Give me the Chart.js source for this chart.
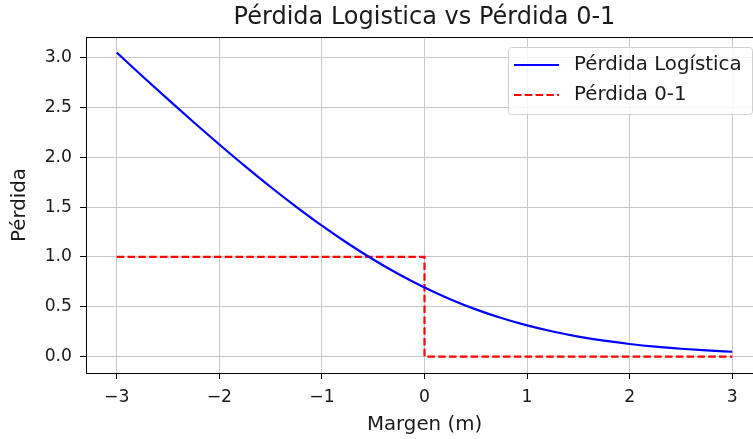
<!DOCTYPE html>
<html>
<head>
<meta charset="utf-8">
<script src="https://cdn.jsdelivr.net/npm/chart.js"></script>
<style>
  html, body { margin: 0; padding: 0; background: #fff; overflow: hidden; }
  #wrap { width: 775px; height: 439px; }
</style>
</head>
<body>
<div id="wrap"><canvas id="grafico" width="775" height="439"></canvas></div>
<script>
// margen (m) y pérdida logística
const margenes = [-3, -2.75, -2.5, -2.25, -2, -1.75, -1.5, -1.25, -1, -0.75, -0.5, -0.25, 0,
                  0.25, 0.5, 0.75, 1, 1.25, 1.5, 1.75, 2, 2.25, 2.5, 2.75, 3];
const perdidaLogistica = [3.049, 2.812, 2.579, 2.350, 2.127, 1.910, 1.701, 1.502, 1.313, 1.137, 0.974, 0.826, 0.693,
                          0.576, 0.474, 0.387, 0.313, 0.252, 0.201, 0.160, 0.127, 0.100, 0.079, 0.062, 0.049];
// pérdida 0-1 (escalón en m = 0)
const margenes01 = [-3, 0, 0, 3];
const perdida01 = [1, 1, 0, 0];

const ticksX = [-3, -2, -1, 0, 1, 2, 3];
const ticksY = [0, 0.5, 1, 1.5, 2, 2.5, 3];

const fuente = "'DejaVu Sans', sans-serif";

const textos = {
    id: 'textos',
    afterDraw(chart) {
        const ctx = chart.ctx;
        const a = chart.chartArea;
        ctx.save();
        // bordes superior y derecho
        ctx.strokeStyle = '#000';
        ctx.lineWidth = 1;
        ctx.beginPath();
        ctx.moveTo(a.left, a.top + 0.5);
        ctx.lineTo(a.right, a.top + 0.5);
        ctx.lineTo(a.right - 0.5, a.bottom);
        ctx.stroke();

        const cx = (a.left + a.right) / 2;
        ctx.fillStyle = '#1a1a1a';
        ctx.textAlign = 'center';
        ctx.textBaseline = 'middle';
        ctx.font = '24px ' + fuente;
        ctx.fillText('Pérdida Logistica vs Pérdida 0-1', cx, 18);

        ctx.font = '19.8px ' + fuente;
        ctx.fillText('Margen (m)', cx, 425);
        ctx.translate(20, (a.top + a.bottom) / 2);
        ctx.rotate(-Math.PI / 2);
        ctx.fillText('Pérdida', 0, 0);
        ctx.restore();

        // leyenda
        ctx.save();
        const lx = 508, ly = 47, lw = 244, lh = 67;
        ctx.fillStyle = 'rgba(255,255,255,0.8)';
        ctx.strokeStyle = '#d0d0d0';
        ctx.lineWidth = 1;
        ctx.beginPath();
        ctx.roundRect(lx + 0.5, ly + 0.5, lw, lh, 3);
        ctx.fill();
        ctx.stroke();
        const filas = [65, 95];
        chart.data.datasets.forEach((ds, i) => {
            ctx.strokeStyle = ds.borderColor;
            ctx.lineWidth = ds.borderWidth;
            ctx.setLineDash(ds.borderDash || []);
            ctx.beginPath();
            ctx.moveTo(514, filas[i]);
            ctx.lineTo(559, filas[i]);
            ctx.stroke();
            ctx.setLineDash([]);
            ctx.fillStyle = '#1a1a1a';
            ctx.font = '19.8px ' + fuente;
            ctx.textAlign = 'left';
            ctx.textBaseline = 'middle';
            ctx.fillText(ds.label, 574, filas[i]);
        });
        ctx.restore();
    }
};

const ctx = document.getElementById('grafico').getContext('2d');
new Chart(ctx, {
    type: 'line',
    data: {
        datasets: [{
            label: 'Pérdida Logística',
            data: margenes.map((m, i) => ({ x: m, y: perdidaLogistica[i] })),
            borderColor: '#0000ff',
            borderWidth: 2.2,
            pointRadius: 0,
            cubicInterpolationMode: 'monotone',
            fill: false
        }, {
            label: 'Pérdida 0-1',
            data: margenes01.map((m, i) => ({ x: m, y: perdida01[i] })),
            borderColor: '#ff0000',
            borderWidth: 2.2,
            borderDash: [7.5, 3.3],
            pointRadius: 0,
            tension: 0,
            fill: false
        }]
    },
    options: {
        responsive: false,
        animation: false,
        layout: { padding: { top: 37, right: 12, left: 0, bottom: 0 } },
        plugins: { legend: { display: false }, tooltip: { enabled: false }, title: { display: false } },
        scales: {
            x: {
                type: 'linear',
                min: -3.3,
                max: 3.3,
                afterBuildTicks: s => { s.ticks = ticksX.map(v => ({ value: v })); },
                afterFit: s => { s.height = 66; },
                grid: { color: '#c8c8c8', lineWidth: 1, tickColor: '#000', tickLength: 6 },
                border: { display: true, color: '#000', width: 1 },
                ticks: {
                    color: '#1a1a1a',
                    font: { family: fuente, size: 17.2 },
                    padding: 8,
                    maxRotation: 0,
                    callback: v => v < 0 ? '\u2212' + Math.abs(v) : String(v)
                }
            },
            y: {
                type: 'linear',
                min: -0.164,
                max: 3.205,
                afterBuildTicks: s => { s.ticks = ticksY.map(v => ({ value: v })); },
                afterFit: s => { s.width = 86; },
                grid: { color: '#c8c8c8', lineWidth: 1, tickColor: '#000', tickLength: 6 },
                border: { display: true, color: '#000', width: 1 },
                ticks: {
                    color: '#1a1a1a',
                    font: { family: fuente, size: 17.2 },
                    padding: 8,
                    callback: v => v.toFixed(1)
                }
            }
        }
    },
    plugins: [textos]
});
</script>
</body>
</html>
